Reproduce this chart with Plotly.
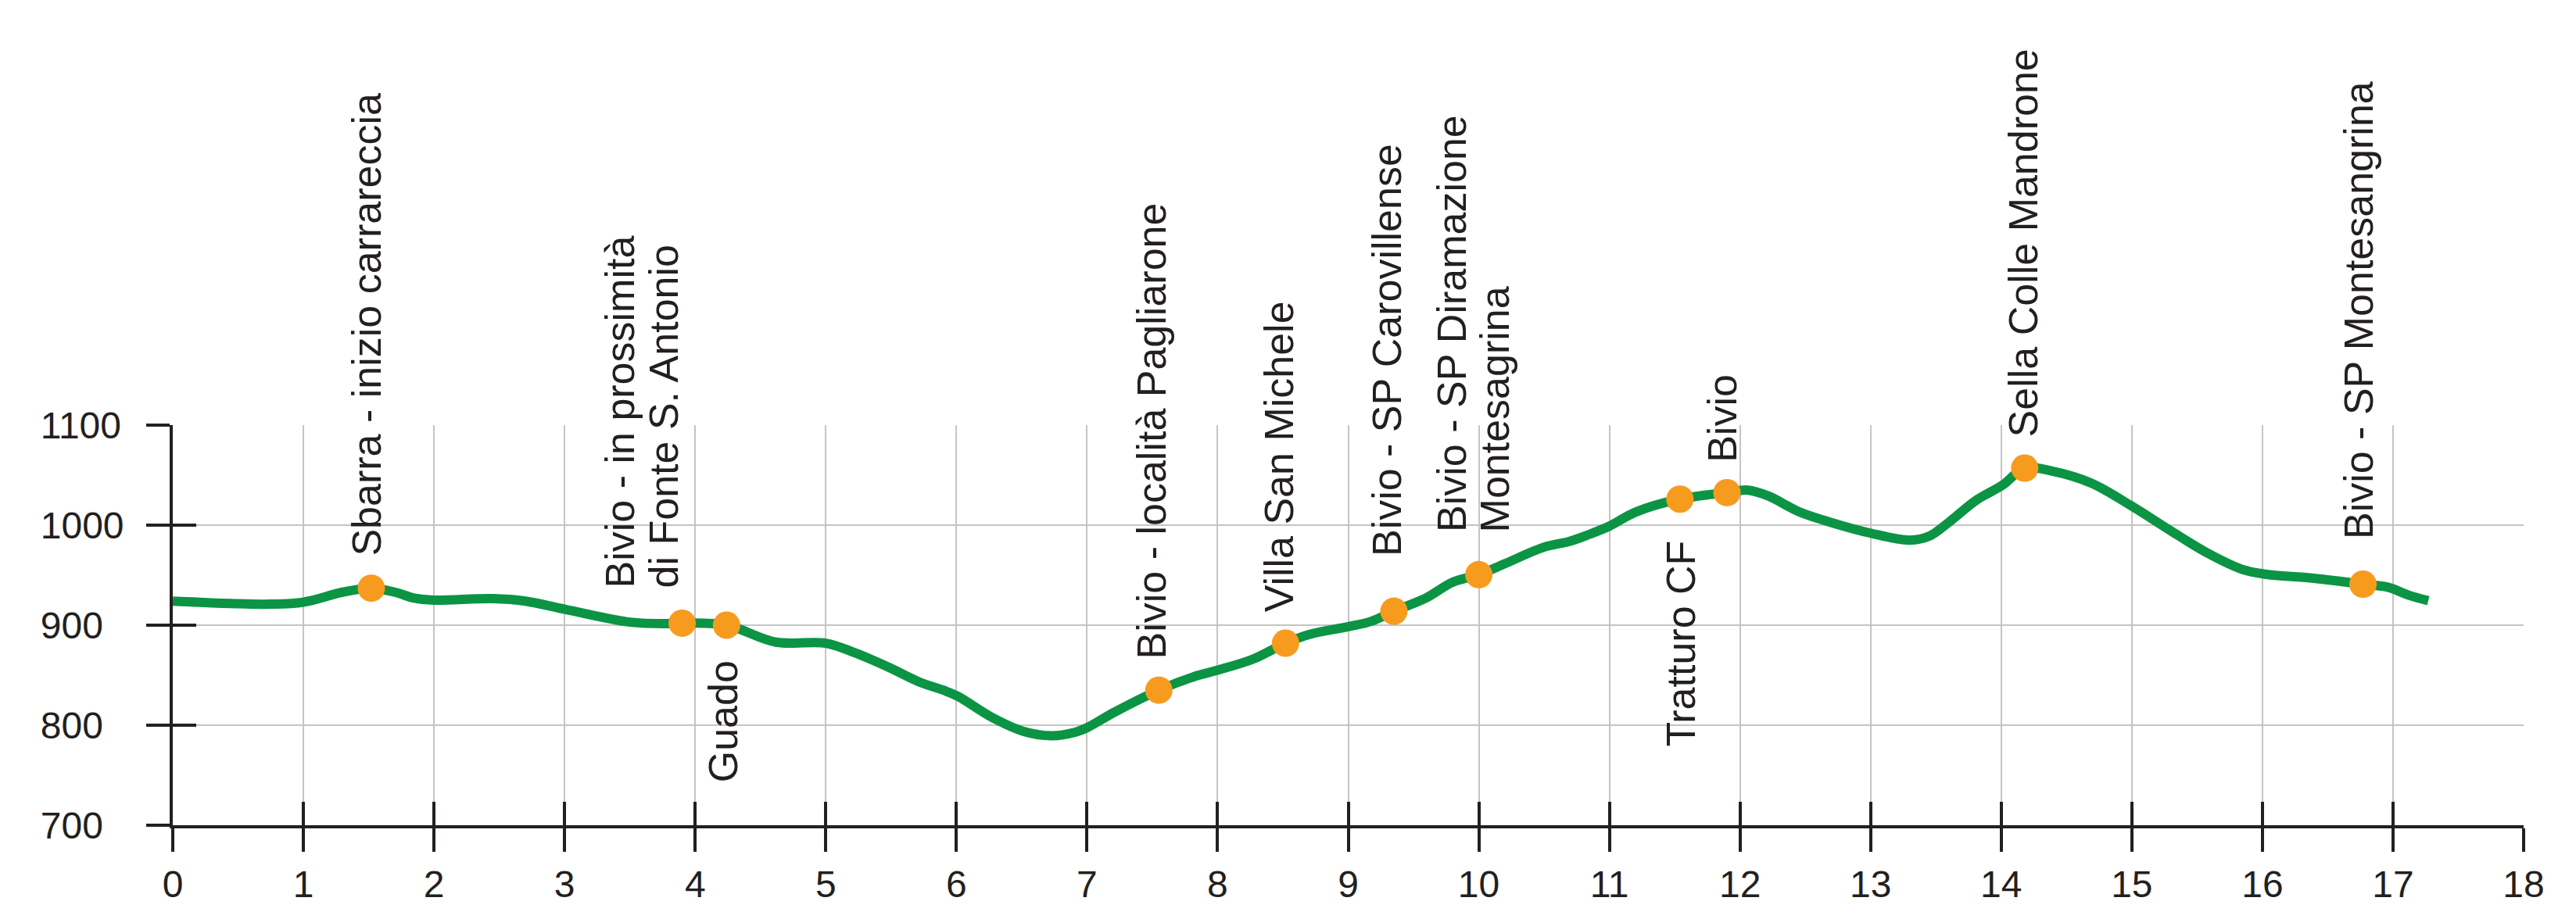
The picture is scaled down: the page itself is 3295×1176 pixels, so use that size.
import plotly.graph_objects as go

# ---- profile data (km, metres) ----
dist_km = [0.0, 0.5, 0.75, 1.0, 1.3, 1.52, 1.7, 1.85, 2.0, 2.45, 2.7, 3.0, 3.5, 3.8, 3.9,
           4.24, 4.62, 5.0, 5.22, 5.48, 5.72, 5.9, 6.01, 6.27, 6.51, 6.73, 6.91, 7.0,
           7.21, 7.55, 7.83, 8.0, 8.27, 8.52, 8.71, 9.0, 9.18, 9.35, 9.6, 9.8, 10.0,
           10.2, 10.5, 10.7, 10.85, 11.0, 11.2, 11.54, 11.9, 12.06, 12.22, 12.45, 12.69,
           13.0, 13.3, 13.45, 13.6, 13.81, 14.01, 14.18, 14.39, 14.69, 15.0, 15.29,
           15.58, 15.84, 16.02, 16.38, 16.77, 16.96, 17.12, 17.27]
elev_m = [924, 921.5, 921, 923, 933, 937, 933, 927, 925, 926.5, 924, 916, 903, 901.5, 902,
          900, 883, 882, 872.5, 858, 843, 835, 829, 808, 794, 789.5, 793, 797.5,
          813, 835, 849, 855, 866, 882, 891, 898.5, 904, 914, 927.5, 943, 950.5,
          961.5, 978, 984, 991, 999, 1013, 1026, 1032.5, 1035, 1029, 1013.5, 1003,
          992, 985, 989, 1003, 1025, 1040, 1057, 1054, 1042, 1019, 995,
          972, 956, 951, 947, 941, 938, 930, 924.5]

# ---- waypoints ----
wp_km = [1.52, 3.90, 4.24, 7.55, 8.52, 9.35, 10.0, 11.54, 11.9, 14.18, 16.77]
wp_elev = [937, 902, 900, 835, 882, 914, 950.5, 1026, 1032.5, 1057, 941]
wp_labels = [
    ["Sbarra - inizio carrareccia"],
    ["Bivio - in prossimità", "di Fonte S. Antonio"],
    ["Guado"],
    ["Bivio - località Pagliarone"],
    ["Villa San Michele"],
    ["Bivio - SP Carovillense"],
    ["Bivio - SP Diramazione", "Montesagrina"],
    ["Tratturo CF"],
    ["Bivio"],
    ["Sella Colle Mandrone"],
    ["Bivio - SP Montesangrina"],
]
wp_side = ["above", "above", "below", "above", "above", "above", "above",
           "below", "above", "above", "above"]

# ---- axes ----
x_range = [0, 18]
y_range = [700, 1100]
x_ticks = list(range(0, 19))
y_ticks = [700, 800, 900, 1000, 1100]

# ---- style ----
W, H = 3295, 1176
ML, MR, MT, MB = 30, 75, 536, 128
AXIS_X0_PX = 213
GREEN = "#0b9444"
ORANGE = "#f79b1f"
INK = "#231f20"
GRID = "#c4c4c4"
LABEL_FONT = "Liberation Sans, Arial, sans-serif"
TICK_FONT = "Liberation Sans, Arial, sans-serif"
# pixel offsets of labels (gap to marker, per-line x offsets)
label_gap = [39, 43, 43, 38, 38, 68, 52, 51, 37, 38, 55]
line_xoff = [[-6], [-80, -24], [-4], [-9], [-8], [-9], [-34, 20], [1], [-6], [-2], [-6]]

plot_w = W - ML - MR
dom_x0 = (AXIS_X0_PX - ML) / plot_w

fig = go.Figure()
fig.add_trace(go.Scatter(
    x=dist_km, y=elev_m, mode="lines",
    line=dict(color=GREEN, width=12, shape="spline", smoothing=1.0),
    hoverinfo="skip", showlegend=False))
fig.add_trace(go.Scatter(
    x=wp_km, y=wp_elev, mode="markers",
    marker=dict(color=ORANGE, size=35, line=dict(width=0)),
    hoverinfo="skip", showlegend=False))
# helper traces so that the overlay axes are drawn
fig.add_trace(go.Scatter(x=wp_km, y=wp_elev, xaxis="x2", yaxis="y2", mode="markers",
                         marker=dict(opacity=0), hoverinfo="skip", showlegend=False))
fig.add_trace(go.Scatter(x=wp_km, y=wp_elev, xaxis="x", yaxis="y3", mode="markers",
                         marker=dict(opacity=0), hoverinfo="skip", showlegend=False))

annotations = []
for xk, ye, lines, side, gap, xoffs in zip(wp_km, wp_elev, wp_labels, wp_side,
                                             label_gap, line_xoff):
    for line, xo in zip(lines, xoffs):
        annotations.append(dict(
            x=xk, y=ye, xref="x", yref="y", text=line, showarrow=False,
            textangle=-90, xanchor="center",
            yanchor="bottom" if side == "above" else "top",
            yshift=gap if side == "above" else -gap, xshift=xo,
            font=dict(family=LABEL_FONT, size=52, color=INK)))

common_ticks = dict(ticklen=30, tickwidth=4, tickcolor=INK)
fig.update_layout(
    width=W, height=H,
    margin=dict(l=ML, r=MR, t=MT, b=MB, pad=0),
    paper_bgcolor="white", plot_bgcolor="white",
    xaxis=dict(domain=[dom_x0, 1], range=x_range, tickvals=x_ticks, anchor="y",
               showline=True, linecolor=INK, linewidth=4, ticks="outside",
               showgrid=True, gridcolor=GRID, gridwidth=2, zeroline=False,
               tickfont=dict(family=TICK_FONT, size=48, color=INK), **common_ticks),
    xaxis2=dict(domain=[dom_x0, 1], range=x_range, tickvals=x_ticks, overlaying="x",
                anchor="y", ticks="inside", showline=False, showgrid=False,
                zeroline=False, showticklabels=False, **common_ticks),
    yaxis=dict(domain=[0, 1], range=y_range, tickvals=y_ticks, anchor="x",
               showline=True, linecolor=INK, linewidth=4, ticks="outside",
               showgrid=True, gridcolor=GRID, gridwidth=2, zeroline=False,
               showticklabels=False, **common_ticks),
    yaxis2=dict(range=y_range, tickvals=y_ticks, overlaying="y", anchor="x",
                ticks="inside", showline=False, showgrid=False, zeroline=False,
                showticklabels=False, **common_ticks),
    yaxis3=dict(range=y_range, tickvals=y_ticks, overlaying="y", anchor="free",
                position=0.004, side="right", ticks="", showline=False,
                showgrid=False, zeroline=False,
                tickfont=dict(family=TICK_FONT, size=48, color=INK)),
    annotations=annotations,
)

fig.write_html("out.html")
